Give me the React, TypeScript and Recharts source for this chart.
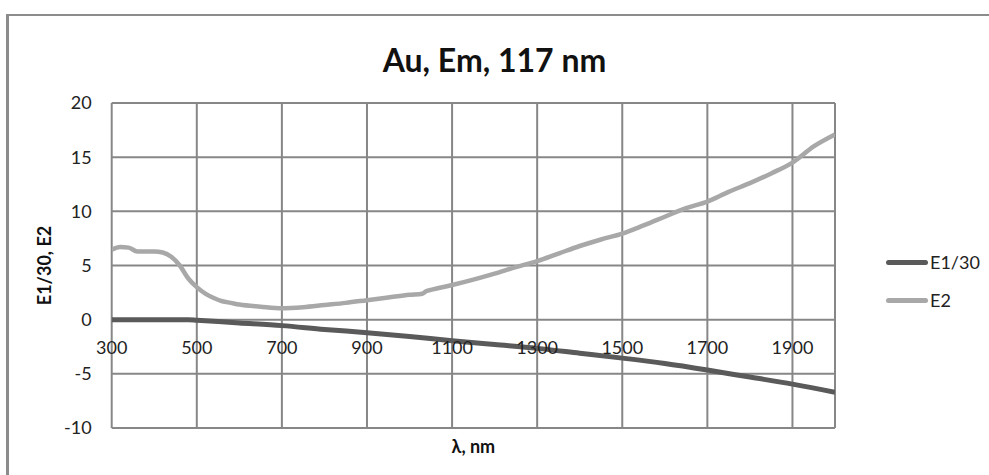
import { CartesianGrid, Line, LineChart, XAxis, YAxis } from "recharts"

const wavelengthsE2 = [
  300, 320, 340, 360, 380, 400, 420, 440, 460, 480, 500, 520, 540, 560, 580, 600, 650, 700, 750, 800, 850, 900, 950,
  1000, 1030, 1040, 1050, 1100, 1150, 1200, 1250, 1300, 1350, 1400, 1450, 1500, 1550, 1600, 1650, 1700, 1750, 1800,
  1850, 1900, 1950, 2000,
]
const valuesE2 = [
  6.45, 6.7, 6.65, 6.3, 6.3, 6.3, 6.2, 5.8, 5.0, 3.8, 3.0, 2.4, 2.0, 1.7, 1.55, 1.4, 1.2, 1.05, 1.15, 1.35, 1.55, 1.8,
  2.05, 2.3, 2.4, 2.65, 2.75, 3.2, 3.7, 4.25, 4.85, 5.4, 6.1, 6.8, 7.4, 7.95, 8.7, 9.5, 10.3, 10.9, 11.8, 12.6, 13.5,
  14.5, 16.0, 17.1,
]

const wavelengthsE1 = [300, 400, 480, 500, 600, 700, 800, 900, 1000, 1100, 1200, 1300, 1400, 1500, 1600, 1700, 1800, 1900, 2000]
const valuesE1 = [0, 0, 0, -0.05, -0.3, -0.55, -0.9, -1.2, -1.55, -1.95, -2.3, -2.65, -3.1, -3.55, -4.05, -4.65, -5.3, -5.95, -6.7]

const xTicks = [300, 500, 700, 900, 1100, 1300, 1500, 1700, 1900]
const yTicks = [-10, -5, 0, 5, 10, 15, 20]

const seriesNames = ["E1/30", "E2"]
const seriesColors = ["#5a5a5a", "#a8a8a8"]

const e1Data = wavelengthsE1.map((x, i) => ({ x, y: valuesE1[i] }))
const e2Data = wavelengthsE2.map((x, i) => ({ x, y: valuesE2[i] }))

const FONT = "Lato, 'Open Sans', sans-serif"

// x labels sit just under the zero line, like Excel's crossing axis
const XTick = (props: any) => {
  const { x, y, payload } = props
  return (
    <text x={x} y={y - 76} textAnchor="middle" fill="#222" fontSize={18} fontFamily={FONT}>
      {payload.value}
    </text>
  )
}

export default function App() {
  return (
    <div style={{ position: "absolute", left: 0, top: 0, width: 989, height: 475, background: "#fff", overflow: "hidden" }}>
      <div
        style={{
          position: "absolute",
          left: 6,
          top: 14,
          width: 1000,
          height: 500,
          borderTop: "2px solid #8c8c8c",
          borderLeft: "3px solid #8c8c8c",
        }}
      />
      <div
        style={{
          position: "absolute",
          left: 0,
          top: 40,
          width: 989,
          textAlign: "center",
          fontFamily: FONT,
          fontWeight: 700,
          fontSize: 32,
          color: "#111",
        }}
      >
        Au, Em, 117 nm
      </div>
      {/* legend */}
      <div style={{ position: "absolute", left: 886, top: 243, fontFamily: FONT, fontSize: 18, color: "#222" }}>
        {seriesNames.map((name, i) => (
          <div key={name} style={{ display: "flex", alignItems: "center", height: 38 }}>
            <div style={{ width: 42, height: 5, borderRadius: 3, background: seriesColors[i], marginRight: 2 }} />
            <span>{name}</span>
          </div>
        ))}
      </div>
      <LineChart width={989} height={475} margin={{ top: 103, right: 154, bottom: 0, left: 0 }} style={{ position: "absolute", left: 0, top: 0 }}>
        <CartesianGrid stroke="#878787" strokeWidth={2} />
        <XAxis
          type="number"
          dataKey="x"
          domain={[300, 2000]}
          ticks={xTicks}
          allowDataOverflow
          height={47}
          axisLine={false}
          tickLine={false}
          tickSize={0}
          tick={<XTick />}
          label={{ value: "λ, nm", position: "insideBottom", offset: 22, fontSize: 18, fontWeight: 700, fontFamily: FONT, fill: "#111" }}
        />
        <YAxis
          type="number"
          domain={[-10, 20]}
          ticks={yTicks}
          width={111.7}
          axisLine={false}
          tickLine={false}
          tickSize={0}
          tickMargin={20}
          tick={{ fontSize: 18, fontFamily: FONT, fill: "#222" }}
          label={{ value: "E1/30, E2", angle: -90, position: "insideLeft", offset: 45, fontSize: 18, fontWeight: 700, fontFamily: FONT, fill: "#111", style: { textAnchor: "middle" } }}
        />
        <Line data={e1Data} dataKey="y" name={seriesNames[0]} type="monotone" stroke={seriesColors[0]} strokeWidth={5} dot={false} isAnimationActive={false} />
        <Line data={e2Data} dataKey="y" name={seriesNames[1]} type="monotone" stroke={seriesColors[1]} strokeWidth={4.5} dot={false} isAnimationActive={false} />
      </LineChart>
    </div>
  )
}
